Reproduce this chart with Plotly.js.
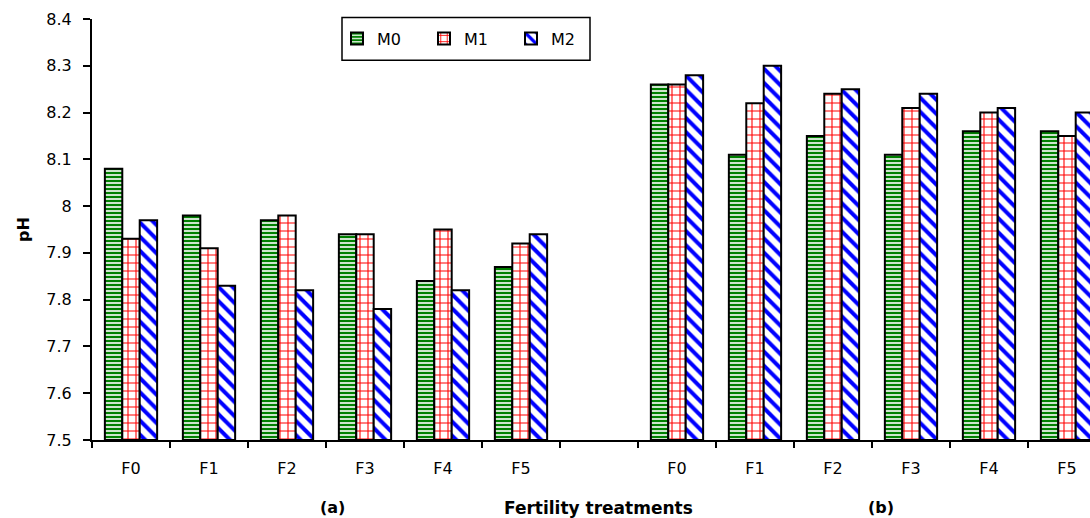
<!DOCTYPE html>
<html>
<head>
<meta charset="utf-8">
<script src="https://cdn.plot.ly/plotly-3.0.1.min.js"></script>
<style>html,body{margin:0;padding:0;overflow:hidden;background:#fff}</style>
</head>
<body>
<div id="chart" style="width:1090px;height:518px"></div>
<script>
// categories: (a) F0..F5, gap, (b) F0..F5
const categories = ["F0","F1","F2","F3","F4","F5","","F0","F1","F2","F3","F4","F5"];
const seriesNames = ["M0","M1","M2"];
const M0 = [8.08, 7.98, 7.97, 7.94, 7.84, 7.87, null, 8.26, 8.11, 8.15, 8.11, 8.16, 8.16];
const M1 = [7.93, 7.91, 7.98, 7.94, 7.95, 7.92, null, 8.26, 8.22, 8.24, 8.21, 8.20, 8.15];
const M2 = [7.97, 7.83, 7.82, 7.78, 7.82, 7.94, null, 8.28, 8.30, 8.25, 8.24, 8.21, 8.20];
const yTicks = [7.5, 7.6, 7.7, 7.8, 7.9, 8, 8.1, 8.2, 8.3, 8.4];
const yTickText = ["7.5","7.6","7.7","7.8","7.9","8","8.1","8.2","8.3","8.4"];

const xs = categories.map((c, i) => i);
const boundaries = categories.map((c, i) => i - 0.5).concat([categories.length - 0.5]);

const font = "DejaVu Sans, Arial, sans-serif";
const patterns = [
  {shape: "-", fgcolor: "#008000", bgcolor: "#ffffff", size: 4, solidity: 0.6},
  {shape: "+", fgcolor: "#ff0000", bgcolor: "#ffffff", size: 8, solidity: 0.25},
  {shape: "\\", fgcolor: "#0000ff", bgcolor: "#ffffff", size: 10, solidity: 0.4}
];
const data = [M0, M1, M2].map((vals, k) => ({
  type: "bar",
  name: seriesNames[k],
  x: xs,
  y: vals.map(v => v === null ? null : v - 7.5),
  base: 7.5,
  marker: {color: "#ffffff", pattern: patterns[k], line: {color: "#000000", width: 2}},
  hoverinfo: "skip"
}));

const px2x = p => (p - 92) / 998;
const px2y = p => (439.6 - p) / 420.7;

const layout = {
  width: 1090, height: 518,
  margin: {l: 92, r: 0, t: 19, b: 78},
  paper_bgcolor: "#ffffff", plot_bgcolor: "#ffffff",
  barmode: "group", bargap: 0.33, bargroupgap: 0,
  showlegend: true,
  legend: {
    orientation: "h", x: px2x(337), xanchor: "left", y: px2y(38.5), yanchor: "middle",
    borderwidth: 0, bgcolor: "rgba(0,0,0,0)",
    font: {family: font, size: 16, color: "#000"},
    entrywidth: 42, entrywidthmode: "pixels", traceorder: "normal"
  },
  shapes: [
    {type: "rect", xref: "paper", yref: "paper", x0: px2x(342), x1: px2x(590), y0: px2y(60), y1: px2y(17.5), line: {color: "#000", width: 1.5}, fillcolor: "rgba(0,0,0,0)", layer: "above"}
  ],
  xaxis: {
    range: [-0.5, 12.295], showgrid: false, zeroline: false,
    showline: true, linecolor: "#000", linewidth: 2,
    tickmode: "array", tickvals: boundaries, ticktext: boundaries.map(() => ""),
    ticks: "outside", ticklen: 6, tickwidth: 2, tickcolor: "#000",
    fixedrange: true
  },
  xaxis2: {
    overlaying: "x", matches: "x", side: "bottom", anchor: "y",
    showgrid: false, zeroline: false, showline: false,
    tickmode: "array", tickvals: xs, ticktext: categories,
    ticks: "", ticklabelstandoff: 17,
    tickfont: {family: font, size: 16, color: "#000"}
  },
  yaxis: {
    range: [7.5, 8.4], showgrid: false, zeroline: false,
    showline: true, linecolor: "#000", linewidth: 2,
    tickmode: "array", tickvals: yTicks, ticktext: yTickText,
    ticks: "outside", ticklen: 7, tickwidth: 2, tickcolor: "#000",
    ticklabelstandoff: 8,
    tickfont: {family: font, size: 16, color: "#000"},
    title: {text: "<b>pH</b>", font: {family: font, size: 16, color: "#000"}, standoff: 13}
  },
  annotations: [
    {text: "<b>(a)</b>", xref: "paper", yref: "paper", x: px2x(332), y: px2y(507), xanchor: "center", yanchor: "middle", showarrow: false, font: {family: font, size: 16, color: "#000"}},
    {text: "<b>Fertility treatments</b>", xref: "paper", yref: "paper", x: px2x(598), y: px2y(508), xanchor: "center", yanchor: "middle", showarrow: false, font: {family: font, size: 17, color: "#000"}},
    {text: "<b>(b)</b>", xref: "paper", yref: "paper", x: px2x(881), y: px2y(507), xanchor: "center", yanchor: "middle", showarrow: false, font: {family: font, size: 16, color: "#000"}}
  ]
};
// invisible point so the label axis draws
data.push({type: "scatter", x: [0], y: [7.5], xaxis: "x2", yaxis: "y", mode: "markers", marker: {opacity: 0}, showlegend: false, hoverinfo: "skip"});

Plotly.newPlot("chart", data, layout, {displayModeBar: false, staticPlot: true});
</script>
</body>
</html>
